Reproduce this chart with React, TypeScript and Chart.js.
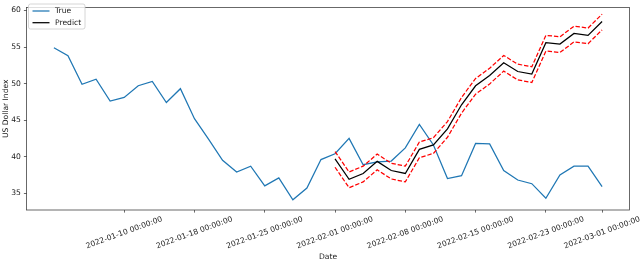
import React, { useEffect, useRef } from "react";
import { Chart, registerables } from "chart.js";

Chart.register(...registerables);

const dates = [
  "2022-01-03", "2022-01-04", "2022-01-05", "2022-01-06", "2022-01-07",
  "2022-01-10", "2022-01-11", "2022-01-12", "2022-01-13", "2022-01-14",
  "2022-01-18", "2022-01-19", "2022-01-20", "2022-01-21", "2022-01-24",
  "2022-01-25", "2022-01-26", "2022-01-27", "2022-01-28", "2022-01-31",
  "2022-02-01", "2022-02-02", "2022-02-03", "2022-02-04", "2022-02-07",
  "2022-02-08", "2022-02-09", "2022-02-10", "2022-02-11", "2022-02-14",
  "2022-02-15", "2022-02-16", "2022-02-17", "2022-02-18", "2022-02-22",
  "2022-02-23", "2022-02-24", "2022-02-25", "2022-02-28", "2022-03-01",
];

const trueVals = [
  54.9, 53.8, 49.9, 50.6, 47.6, 48.1, 49.7, 50.3, 47.4, 49.3,
  45.2, 42.4, 39.5, 37.9, 38.7, 36.0, 37.1, 34.1, 35.7, 39.6,
  40.4, 42.5, 38.9, 39.3, 39.4, 41.2, 44.4, 41.6, 37.0, 37.4,
  41.8, 41.75, 38.1, 36.8, 36.3, 34.3, 37.5, 38.7, 38.7, 35.9,
];

const predStart = 20;
const predVals = [
  39.7, 36.9, 37.7, 39.35, 38.1, 37.7, 41.0, 41.6, 43.8, 47.1,
  49.7, 51.1, 52.85, 51.65, 51.3, 55.6, 55.4, 56.85, 56.6, 58.5,
];
const upperVals = [
  40.7, 37.9, 38.7, 40.35, 39.1, 38.7, 42.0, 42.6, 44.8, 48.1,
  50.7, 52.1, 53.85, 52.65, 52.3, 56.6, 56.4, 57.85, 57.6, 59.5,
];
const lowerVals = [
  38.55, 35.75, 36.55, 38.2, 36.95, 36.55, 39.85, 40.45, 42.65, 45.95,
  48.55, 49.95, 51.7, 50.5, 50.15, 54.45, 54.25, 55.7, 55.45, 57.35,
];

const xTickIdx = [5, 10, 15, 20, 25, 30, 35, 39];
const yTicks = [35, 40, 45, 50, 55, 60];

const FONT = "DejaVu Sans";
const TEXT = "#1a1a1a";
const AXIS = "#444444";
const FS = 7.6;
const LW = 1.25;

export default function App() {
  const ref = useRef<HTMLCanvasElement | null>(null);

  useEffect(() => {
    if (!ref.current) return;
    const n = dates.length;
    const margin = (n - 1) * 0.05;

    const customDraw = {
      id: "customDraw",
      afterDraw(chart: any) {
        const ctx = chart.ctx as CanvasRenderingContext2D;
        const area = chart.chartArea;
        ctx.save();
        ctx.strokeStyle = AXIS;
        ctx.lineWidth = 0.8;
        ctx.strokeRect(area.left, area.top, area.right - area.left, area.bottom - area.top);

        const xs = chart.scales.x;
        ctx.font = `${FS}px "${FONT}"`;
        ctx.fillStyle = TEXT;
        ctx.textAlign = "center";
        ctx.textBaseline = "middle";
        const rot = (20 * Math.PI) / 180;
        const H = FS * 1.05;
        xs.ticks.forEach((t: any) => {
          const label = dates[t.value] + " 00:00:00";
          const W = ctx.measureText(label).width;
          const bh = W * Math.sin(rot) + H * Math.cos(rot);
          const px = xs.getPixelForValue(t.value);
          const cy = area.bottom + 5.2 + bh / 2;
          ctx.save();
          ctx.translate(px, cy);
          ctx.rotate(-rot);
          ctx.fillText(label, 0, 0);
          ctx.restore();
        });

        const lx = 28.5, ly = 4, lw = 56.5, lh = 25, r = 2;
        ctx.beginPath();
        ctx.moveTo(lx + r, ly);
        ctx.lineTo(lx + lw - r, ly);
        ctx.quadraticCurveTo(lx + lw, ly, lx + lw, ly + r);
        ctx.lineTo(lx + lw, ly + lh - r);
        ctx.quadraticCurveTo(lx + lw, ly + lh, lx + lw - r, ly + lh);
        ctx.lineTo(lx + r, ly + lh);
        ctx.quadraticCurveTo(lx, ly + lh, lx, ly + lh - r);
        ctx.lineTo(lx, ly + r);
        ctx.quadraticCurveTo(lx, ly, lx + r, ly);
        ctx.closePath();
        ctx.fillStyle = "rgba(255,255,255,0.8)";
        ctx.fill();
        ctx.strokeStyle = "#cccccc";
        ctx.lineWidth = 0.8;
        ctx.stroke();
        const items = chart.data.datasets.filter((d: any) => d.inLegend);
        items.forEach((d: any, i: number) => {
          const y = 11 + i * 11.7;
          ctx.strokeStyle = d.borderColor;
          ctx.lineWidth = d.borderWidth;
          ctx.setLineDash([]);
          ctx.beginPath();
          ctx.moveTo(32.5, y);
          ctx.lineTo(49.5, y);
          ctx.stroke();
          ctx.fillStyle = TEXT;
          ctx.textAlign = "left";
          ctx.textBaseline = "middle";
          ctx.font = `${FS}px "${FONT}"`;
          ctx.fillText(d.label, 55, y);
        });
        ctx.restore();
      },
    };

    const chart = new Chart(ref.current, {
      type: "line",
      data: {
        datasets: [
          {
            label: "lower",
            data: lowerVals.map((v, i) => ({ x: i + predStart, y: v })),
            borderColor: "#ff0000",
            borderWidth: LW,
            borderDash: [4.4, 1.9],
            pointRadius: 0,
            order: 0,
          },
          {
            label: "upper",
            data: upperVals.map((v, i) => ({ x: i + predStart, y: v })),
            borderColor: "#ff0000",
            borderWidth: LW,
            borderDash: [4.4, 1.9],
            pointRadius: 0,
            order: 1,
          },
          {
            label: "True",
            inLegend: true,
            data: trueVals.map((v, i) => ({ x: i, y: v })),
            borderColor: "#1f77b4",
            borderWidth: LW,
            pointRadius: 0,
            order: 3,
          },
          {
            label: "Predict",
            inLegend: true,
            data: predVals.map((v, i) => ({ x: i + predStart, y: v })),
            borderColor: "#000000",
            borderWidth: LW,
            pointRadius: 0,
            order: 2,
          },
        ] as any,
      },
      options: {
        animation: false,
        responsive: false,
        devicePixelRatio: 1,
        layout: { padding: { top: 1.5, right: 10.5, left: 0, bottom: 0 } },
        plugins: { legend: { display: false }, tooltip: { enabled: false } },
        elements: { line: { tension: 0 } },
        scales: {
          x: {
            type: "linear",
            min: -margin,
            max: n - 1 + margin,
            afterBuildTicks: (s: any) => {
              s.ticks = xTickIdx.map((v) => ({ value: v }));
            },
            afterFit: (s: any) => {
              s.height = 50;
            },
            ticks: { display: false },
            grid: {
              drawOnChartArea: false,
              drawTicks: true,
              tickLength: 2.6,
              color: AXIS,
              lineWidth: 0.8,
            },
            border: { display: false },
            title: {
              display: true,
              text: "Date",
              color: TEXT,
              font: { family: FONT, size: FS },
              padding: { top: 0, bottom: -1.5 },
            },
          },
          y: {
            type: "linear",
            min: 32.7,
            max: 60.4,
            afterBuildTicks: (s: any) => {
              s.ticks = yTicks.map((v) => ({ value: v }));
            },
            afterFit: (s: any) => {
              s.width = 26.5;
            },
            ticks: {
              color: TEXT,
              font: { family: FONT, size: FS },
              padding: 3,
            },
            grid: {
              drawOnChartArea: false,
              drawTicks: true,
              tickLength: 2.6,
              color: AXIS,
              lineWidth: 0.8,
            },
            border: { display: false },
            title: {
              display: true,
              text: "US Dollar Index",
              color: TEXT,
              font: { family: FONT, size: FS },
              padding: { top: 1.5, bottom: 0 },
            },
          },
        },
      },
      plugins: [customDraw],
    } as any);

    return () => chart.destroy();
  }, []);

  return (
    <canvas
      ref={ref}
      width={640}
      height={260}
      style={{ position: "fixed", left: 0, top: 0, width: 640, height: 260 }}
    />
  );
}
